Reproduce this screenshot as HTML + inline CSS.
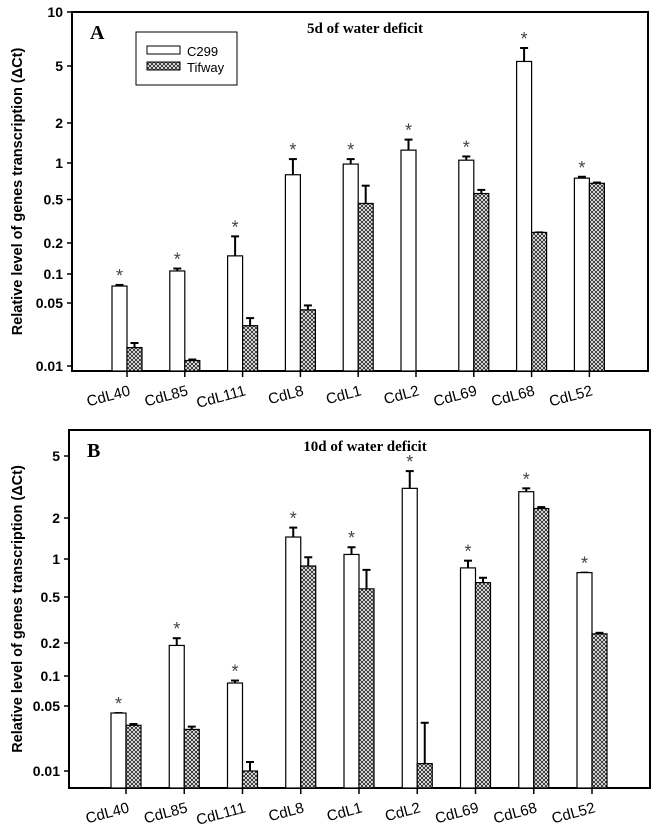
<!DOCTYPE html>
<html><head><meta charset="utf-8"><style>
html,body{margin:0;padding:0;background:#fff;}
svg{display:block;}
</style></head><body>
<svg id="chart" width="658" height="835" viewBox="0 0 658 835" xmlns="http://www.w3.org/2000/svg">
<defs>
<pattern id="hatch" width="4" height="4" patternUnits="userSpaceOnUse">
<rect width="4" height="4" fill="#fff"/>
<path d="M0,0L4,4M4,0L0,4" stroke="#222" stroke-width="0.9"/>
</pattern>
</defs>
</svg>
<script>
const categories = ["CdL40","CdL85","CdL111","CdL8","CdL1","CdL2","CdL69","CdL68","CdL52"];
const aC299 = [0.075,0.107,0.15,0.8,0.98,1.25,1.05,5.3,0.75];
const aC299Err = [0.077,0.113,0.23,1.07,1.07,1.5,1.12,6.3,0.77];
const aTifway = [0.016,0.0115,0.028,0.042,0.46,null,0.56,0.25,0.68];
const aTifwayErr = [0.018,0.0118,0.034,0.047,0.65,null,0.6,0.25,0.69];
const aStar = [1,1,1,1,1,1,1,1,1];
const bC299 = [0.042,0.19,0.085,1.45,1.08,3.1,0.85,2.95,0.78];
const bC299Err = [0.042,0.22,0.09,1.7,1.22,4.0,0.97,3.1,0.78];
const bTifway = [0.031,0.028,0.01,0.88,0.58,0.012,0.65,2.3,0.24];
const bTifwayErr = [0.032,0.03,0.0125,1.03,0.82,0.033,0.71,2.35,0.245];
const bStar = [1,1,1,1,1,1,1,1,1];
const aTicks = [10,5,2,1,0.5,0.2,0.1,0.05,0.01];
const aTickLabels = ["10","5","2","1","0.5","0.2","0.1","0.05","0.01"];
const bTicks = [5,2,1,0.5,0.2,0.1,0.05,0.01];
const bTickLabels = ["5","2","1","0.5","0.2","0.1","0.05","0.01"];

const NS="http://www.w3.org/2000/svg";
const svg=document.getElementById('chart');
function mk(tag,attrs,parent){const e=document.createElementNS(NS,tag);for(const k in attrs)e.setAttribute(k,attrs[k]);(parent||svg).appendChild(e);return e;}

function makeY(vals,pix){
  return function(v){
    const l=Math.log10(v);
    const L=vals.map(Math.log10);
    let i=0;
    if(l>=L[0]) i=0; else if(l<=L[L.length-1]) i=L.length-2;
    else {for(i=0;i<L.length-1;i++){if(l<=L[i]&&l>=L[i+1])break;}}
    const t=(l-L[i])/(L[i+1]-L[i]);
    return pix[i]+t*(pix[i+1]-pix[i]);
  };
}

function panel(o){
  const g=mk('g',{});
  
  
  const y=makeY(o.calV,o.calP);
  const x=i=>o.x0+i*o.step;
  const frame=mk('rect',{x:o.left,y:o.top,width:o.right-o.left,height:o.bottom-o.top,fill:'none',stroke:'#000','stroke-width':2},g);
  
  
  o.ticks.forEach((t,i)=>{
    const ty=y(t);
    mk('line',{x1:o.left-5,x2:o.left,y1:ty,y2:ty,stroke:'#000','stroke-width':1.5},g);
    const tx=mk('text',{x:o.left-9,y:ty+5,'text-anchor':'end','font-family':'Liberation Sans, sans-serif','font-size':14,'font-weight':'bold'},g);
    tx.textContent=o.tickLabels[i];
    
    
  });
  const bw=15;
  categories.forEach((c,i)=>{
    const cx=x(i);
    mk('line',{x1:cx,x2:cx,y1:o.bottom,y2:o.bottom+6,stroke:'#000','stroke-width':1.5},g);
    const lab=mk('text',{x:0,y:0,'text-anchor':'end','font-family':'Liberation Sans, sans-serif','font-size':15,transform:`translate(${cx+4},${o.bottom+24}) rotate(-15)`},g);
    lab.textContent=c;
    
    
    const v1=o.c299[i], e1=o.c299Err[i];
    if(v1!=null){
      const yt=y(v1), ye=y(e1);
      const bx=cx-bw/2;
      if(ye<yt-0.5){
        mk('line',{x1:bx,x2:bx,y1:ye,y2:yt,stroke:'#000','stroke-width':2},g);
      }
      mk('line',{x1:bx-4,x2:bx+4,y1:ye,y2:ye,stroke:'#000','stroke-width':2},g);
      const b=mk('rect',{x:cx-bw,y:yt,width:bw,height:o.bottom-yt,fill:'#fff',stroke:'#000','stroke-width':1.2},g);
      
      
      if(o.star[i]){
        const s=mk('text',{x:bx,y:Math.min(ye,yt)-3,'text-anchor':'middle','font-family':'Liberation Sans, sans-serif','font-size':18,fill:'#444'},g);
        s.textContent='*';
        
        
      }
    }
    const v2=o.tif[i], e2=o.tifErr[i];
    if(v2!=null){
      const yt=y(v2), ye=y(e2);
      const bx=cx+bw/2;
      if(ye<yt-0.5){
        mk('line',{x1:bx,x2:bx,y1:ye,y2:yt,stroke:'#000','stroke-width':2},g);
      }
      mk('line',{x1:bx-4,x2:bx+4,y1:ye,y2:ye,stroke:'#000','stroke-width':2},g);
      const b=mk('rect',{x:cx,y:yt,width:bw,height:o.bottom-yt,fill:'url(#hatch)',stroke:'#000','stroke-width':1.2},g);
      
      
    }
  });
  const pl=mk('text',{x:o.left+18,y:o.top+27,'font-family':'Liberation Serif, serif','font-size':20,'font-weight':'bold'},g);
  pl.textContent=o.letter;
  
  
  const tt=mk('text',{x:365,y:o.top+21,'text-anchor':'middle','font-family':'Liberation Serif, serif','font-size':15,'font-weight':'bold'},g);
  tt.textContent=o.title;
  
  
  const yl=mk('text',{x:0,y:0,'text-anchor':'middle','font-family':'Liberation Sans, sans-serif','font-size':14.5,'font-weight':'bold',transform:`translate(22,${(o.top+o.bottom)/2}) rotate(-90)`},g);
  yl.textContent='Relative level of genes transcription (\u0394Ct)';
  
  
}

panel({name:'panel-a',letter:'A',title:'5d of water deficit',left:72,right:648,top:12,bottom:371,x0:127,step:57.8,
  calV:[10,5,2,1,0.5,0.2,0.1,0.05,0.01],calP:[12,66,123,163,199.5,243,274,303,366],
  ticks:aTicks,tickLabels:aTickLabels,c299:aC299,c299Err:aC299Err,tif:aTifway,tifErr:aTifwayErr,star:aStar});
panel({name:'panel-b',letter:'B',title:'10d of water deficit',left:69,right:650,top:430,bottom:788,x0:126,step:58.25,
  calV:[5,2,1,0.5,0.2,0.1,0.05,0.01],calP:[456,518,559,597,643,676,706,771],
  ticks:bTicks,tickLabels:bTickLabels,c299:bC299,c299Err:bC299Err,tif:bTifway,tifErr:bTifwayErr,star:bStar});

const lg=mk('g',{});


mk('rect',{x:136,y:32,width:101,height:53,fill:'#fff',stroke:'#000','stroke-width':1},lg);
const s1=mk('rect',{x:147,y:46,width:33,height:8,fill:'#fff',stroke:'#000','stroke-width':1},lg);


const s2=mk('rect',{x:147,y:62,width:33,height:8,fill:'url(#hatch)',stroke:'#000','stroke-width':1},lg);


const t1=mk('text',{x:187,y:56,'font-family':'Liberation Sans, sans-serif','font-size':13},lg);
t1.textContent='C299';


const t2=mk('text',{x:187,y:72,'font-family':'Liberation Sans, sans-serif','font-size':13},lg);
t2.textContent='Tifway';


</script>
</body></html>
